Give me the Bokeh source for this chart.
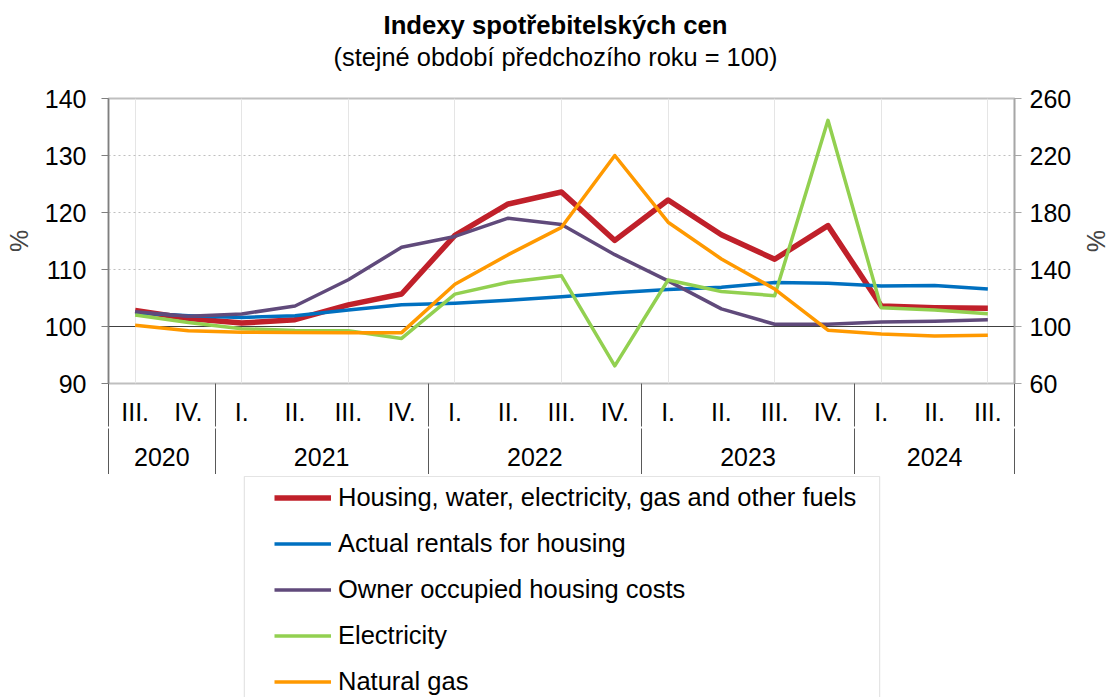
from bokeh.plotting import figure
from bokeh.layouts import column
from bokeh.models import (Range1d, LinearAxis, FixedTicker, Span, BoxAnnotation,
                          Legend, LegendItem, Title, ColumnDataSource)
from bokeh.embed import file_html
from bokeh.resources import INLINE

FONT = "Liberation Sans"

# ---------------- data ----------------
year_labels = ["2020", "2021", "2022", "2023", "2024"]
quarter_labels = [["III.", "IV."],
                  ["I.", "II.", "III.", "IV."],
                  ["I.", "II.", "III.", "IV."],
                  ["I.", "II.", "III.", "IV."],
                  ["I.", "II.", "III."]]

housing = [102.8, 101.4, 100.6, 101.2, 103.8, 105.7, 116.0, 121.5, 123.6,
           115.1, 122.2, 116.1, 111.8, 117.7, 103.6, 103.3, 103.2]
rentals = [102.4, 101.9, 101.6, 101.9, 102.9, 103.8, 104.1, 104.6, 105.2,
           105.9, 106.5, 106.9, 107.7, 107.6, 107.1, 107.2, 106.6]
owner = [102.6, 101.8, 102.2, 103.6, 108.2, 113.9, 115.8, 119.0, 117.9,
         112.6, 108.0, 103.1, 100.4, 100.4, 100.8, 100.9, 101.2]
electricity = [108.0, 102.8, 98.5, 97.2, 97.0, 91.6, 122.7, 131.0, 135.6,
               72.4, 132.6, 124.6, 121.6, 244.7, 113.2, 111.5, 108.9]
natural_gas = [100.8, 97.0, 96.0, 95.8, 95.7, 95.7, 129.7, 150.4, 169.6,
               220.0, 173.2, 147.4, 126.3, 97.4, 94.8, 93.3, 93.9]

series_names = ["Housing, water, electricity, gas and other fuels",
                "Actual rentals for housing",
                "Owner occupied housing costs",
                "Electricity",
                "Natural gas"]
series_colors = ["#C0202A", "#0070C0", "#604A7B", "#92D050", "#FF9900"]
series_widths = [5.5, 3.5, 3.5, 3.5, 3.5]

left_ticks = [90, 100, 110, 120, 130, 140]
right_ticks = [60, 100, 140, 180, 220, 260]

title_text = "Indexy spotřebitelských cen"
subtitle_text = "(stejné období předchozího roku = 100)"

# ---------------- chart ----------------
quarters_flat = [q for qs in quarter_labels for q in qs]
n = len(quarters_flat)
pos = list(range(n))  # category index of each quarter

src = ColumnDataSource(dict(x=pos, housing=housing, rentals=rentals, owner=owner,
                            electricity=electricity, gas=natural_gas))

FL, FR = 108, 1015  # frame left / right in page pixels

p = figure(width=1113, height=474, output_backend="svg", toolbar_location=None,
           x_range=Range1d(-0.5, n - 0.5),
           y_range=Range1d(left_ticks[0], left_ticks[-1]),
           x_axis_location=None, title=None,
           min_border_left=FL, min_border_right=1113 - FR, min_border_top=98,
           min_border_bottom=91)
p.background_fill_color = "white"
p.border_fill_color = "white"
p.outline_line_color = "#BFBFBF"
p.outline_line_width = 2

p.extra_y_ranges = {"right": Range1d(right_ticks[0], right_ticks[-1])}

ya = p.yaxis[0]
ya.ticker = FixedTicker(ticks=left_ticks)
ya.axis_line_color = "#7F7F7F"
ya.axis_line_width = 1.5
ya.major_tick_line_color = "#7F7F7F"
ya.major_tick_out = 7
ya.major_tick_in = 0
ya.minor_tick_line_color = None
ya.major_label_standoff = 15
ya.major_label_text_font = FONT
ya.major_label_text_font_size = "25px"
ya.major_label_text_color = "black"
ya.axis_label = "%"
ya.axis_label_text_font = FONT
ya.axis_label_text_font_size = "25px"
ya.axis_label_text_font_style = "normal"
ya.axis_label_standoff = 9

ra = LinearAxis(y_range_name="right", ticker=FixedTicker(ticks=right_ticks),
                axis_line_color="#A6A6A6", axis_line_width=1.5,
                major_tick_line_color="#A6A6A6", major_tick_out=7, major_tick_in=0,
                minor_tick_line_color=None, major_label_standoff=8,
                major_label_text_font=FONT, major_label_text_font_size="25px",
                major_label_text_color="black",
                axis_label="%", axis_label_text_font=FONT,
                axis_label_text_font_size="25px", axis_label_text_font_style="normal",
                axis_label_standoff=8)
p.add_layout(ra, "right")

p.ygrid.ticker = FixedTicker(ticks=[t for t in left_ticks[2:-1]])
p.ygrid.grid_line_color = "#BFBFBF"
p.ygrid.grid_line_dash = "2 3"
p.ygrid.grid_line_width = 1

base = Span(location=100, dimension="width", line_color="#404040", line_width=1,
            level="underlay")
p.add_layout(base)

# category axes (quarters + years) with year separators
q_over, y_over, bounds = {}, {}, []
start = 0
for y, qs in zip(year_labels, quarter_labels):
    bounds.append(start - 0.5)
    for k, qq in enumerate(qs):
        q_over[start + k] = qq
    y_over[start + (len(qs) - 1) / 2] = y
    start += len(qs)
bounds.append(n - 0.5)

common = dict(axis_line_color=None, major_tick_line_color=None,
              major_tick_out=0, major_tick_in=0, minor_tick_in=0,
              minor_tick_line_color="#595959", minor_tick_line_width=1,
              major_label_text_font=FONT, major_label_text_font_size="25px",
              major_label_text_color="black")
qa = LinearAxis(ticker=FixedTicker(ticks=list(q_over.keys()), minor_ticks=bounds),
                major_label_overrides=q_over, major_label_standoff=-29,
                minor_tick_out=43, **common)
yr = LinearAxis(ticker=FixedTicker(ticks=list(y_over.keys()), minor_ticks=bounds),
                major_label_overrides=y_over, major_label_standoff=-28,
                minor_tick_out=47, **common)
p.add_layout(qa, "below")
p.add_layout(yr, "below")

cols = ["housing", "rentals", "owner", "electricity", "gas"]
for i, c in enumerate(cols):
    kw = dict(y_range_name="right") if c in ("electricity", "gas") else {}
    p.line("x", c, source=src, line_color=series_colors[i],
           line_width=series_widths[i], line_join="round", **kw)

# titles (a blank spacer panel keeps the gap between subtitle and plot)
p.add_layout(Title(text=" ", standoff=13, text_font=FONT, text_font_size="10px"),
             "above")
p.add_layout(Title(text=subtitle_text, align="left", offset=333 - FL, standoff=4,
                   text_font=FONT, text_font_size="25.4px", text_font_style="normal",
                   text_color="black"), "above")
p.add_layout(Title(text=title_text, align="left", offset=383 - FL, standoff=0,
                   text_font=FONT, text_font_size="25.7px", text_font_style="bold",
                   text_color="black"), "above")

# ---------------- legend strip ----------------
LH = 223
q = figure(width=1113, height=LH, output_backend="svg", toolbar_location=None,
           x_range=Range1d(FL, FR), y_range=Range1d(LH, 0),
           x_axis_location=None, y_axis_location=None, title=None,
           min_border_left=FL, min_border_right=1113 - FR, min_border_top=0,
           min_border_bottom=0)
q.outline_line_color = None
q.background_fill_color = "white"
q.border_fill_color = "white"
q.xgrid.visible = False
q.ygrid.visible = False

q.add_layout(BoxAnnotation(left=244, right=880, top=2, bottom=LH + 20,
                           fill_color="white", fill_alpha=1,
                           line_color="#A6A6A6", line_width=1.2))

nan = float("nan")
leg_renderers = [q.line(x=[nan], y=[nan], line_color=series_colors[i],
                        line_width=series_widths[i])
                 for i in range(len(series_names))]
RH, SP = 29, 17
Hl = 5 * RH + 4 * SP
leg = Legend(items=[LegendItem(label=nm, renderers=[r])
                    for nm, r in zip(series_names, leg_renderers)],
             location=(274 - FL, LH - 9 - Hl), padding=0, spacing=SP, margin=0,
             glyph_width=57, glyph_height=RH, label_height=RH, label_standoff=7,
             label_text_font=FONT, label_text_font_size="25.5px",
             label_text_color="black",
             border_line_color=None, background_fill_alpha=0)
q.add_layout(leg, "center")

layout = column(p, q, spacing=0)
open("out.html", "w").write(file_html(layout, INLINE))
